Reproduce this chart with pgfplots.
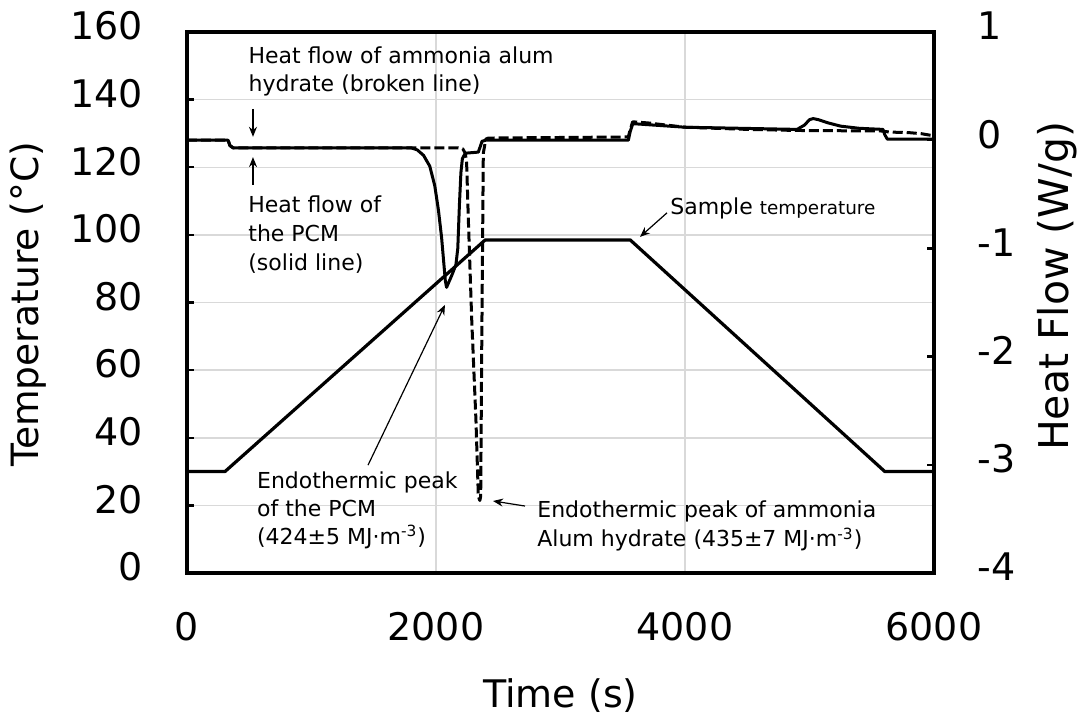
\documentclass[border=0pt]{standalone}
\usepackage{fontspec}
\setmainfont{DejaVu Sans}
\usepackage{pgfplots}
\pgfplotsset{compat=1.18}
\usetikzlibrary{arrows.meta}
\definecolor{gridgray}{RGB}{217,217,217}
\newcommand{\annfont}{\fontsize{11}{13}\selectfont}
\tikzset{ann/.style={anchor=base west, inner sep=0pt, font=\annfont}}
\pgfplotsset{
  base/.style={at={(0,0)}, anchor=south west, scale only axis,
    width=373.5pt, height=270.5pt, xmin=0, xmax=6000, clip=false,
    /pgf/number format/assume math mode=true,
    /pgf/number format/1000 sep={},
    scaled ticks=false,
    tick label style={font=\fontsize{19}{19}\selectfont},
  },
}
\begin{document}
\begin{tikzpicture}
\useasboundingbox (-93.5pt,-75.5pt) rectangle (448pt,286.5pt);
% background: grid, x and left tick labels
\begin{axis}[base, ymin=0, ymax=160,
  xtick={0,2000,4000,6000}, ytick={0,20,...,160},
  xmajorgrids, ymajorgrids, grid style={gridgray, line width=0.75pt},
  major tick length=0pt, axis line style={draw=none},
  xticklabel style={anchor=base, inner sep=0pt, yshift=-33.5pt},
  yticklabel style={anchor=east, inner sep=0pt, xshift=-22pt, yshift=3pt},
  xlabel={Time (s)},
  xlabel style={at={(axis description cs:0.5,-0.2495)}, anchor=base, font=\fontsize{19}{19}\selectfont},
  ylabel={Temperature (°C)},
  ylabel style={at={(axis description cs:-0.2129,0.497)}, anchor=center, font=\fontsize{18.8}{19}\selectfont},
]
\addplot[draw=none, forget plot] coordinates {(0,0) (6000,160)};
\end{axis}
% left axis: temperature
\begin{axis}[base, ymin=0, ymax=160, xtick=\empty,
  ytick={0,20,...,160}, ytick pos=left, ytick align=inside,
  major tick length=3.5pt, tick style={black, line width=1.2pt},
  yticklabels={}, axis line style={line width=2pt},
]
\addplot[black, line width=1.6pt, line join=round] coordinates {
(0,30) (305,30) (2395,98.5) (3560,98.5) (5605,30) (6000,30)};
% annotations
\node[ann] at (axis cs:492,150.8) {Heat flow of ammonia alum};
\node[ann] at (axis cs:492,142.4) {hydrate (broken line)};
\draw[-{Stealth[length=5pt,width=4pt]}, line width=0.6pt] (axis cs:530,137.3) -- (axis cs:530,129.0);
\draw[-{Stealth[length=5pt,width=4pt]}, line width=0.6pt] (axis cs:530,114.8) -- (axis cs:530,123.0);
\node[ann] at (axis cs:490,106.5) {Heat flow of};
\node[ann] at (axis cs:490,97.9) {the PCM};
\node[ann] at (axis cs:490,89.6) {(solid line)};
\node[ann] at (axis cs:560,25.1) {Endothermic peak};
\node[ann] at (axis cs:560,16.6) {of the PCM};
\node[ann] at (axis cs:560,8.3) {(424±5 MJ·m\textsuperscript{-3})};
\draw[-{Stealth[length=5pt,width=4pt]}, line width=0.6pt] (axis cs:1454,31.9) -- (axis cs:2072,79.3);
\node[ann] at (axis cs:2811,16.3) {Endothermic peak of ammonia};
\node[ann] at (axis cs:2811,7.7) {Alum hydrate (435±7 MJ·m\textsuperscript{-3})};
\draw[-{Stealth[length=5pt,width=4pt]}, line width=0.6pt] (axis cs:2715,19.8) -- (axis cs:2458,21.3);
\node[ann] at (axis cs:3879,105.9) {Sample {\fontsize{9.2}{11}\selectfont temperature}};
\draw[-{Stealth[length=5pt,width=4pt]}, line width=0.6pt] (axis cs:3855,106.5) -- (axis cs:3638,99.4);
\end{axis}
% right axis: heat flow
\begin{axis}[base, ymin=-4, ymax=1,
  axis y line*=right, axis x line=none,
  ytick={-4,-3,-2,-1,0,1}, ytick align=inside,
  major tick length=3.5pt, tick style={black, line width=1.2pt},
  axis line style={line width=2pt},
  yticklabel style={anchor=west, inner sep=0pt, xshift=21.5pt, yshift=3pt},
  ylabel={Heat Flow (W/g)},
  ylabel style={at={(axis description cs:1.1647,0.53)}, anchor=center, font=\fontsize{20.5}{21}\selectfont},
]
% PCM (solid)
\addplot[black, line width=1.5pt, line join=round] coordinates {
(0,0.00) (330,0.00) (345,-0.05) (370,-0.07) (1800,-0.07) (1850,-0.09) (1900,-0.14)
(1950,-0.24) (1990,-0.42) (2020,-0.65) (2045,-0.90) (2060,-1.10) (2075,-1.30)
(2085,-1.36) (2100,-1.32) (2130,-1.24) (2160,-1.15) (2175,-1.00) (2188,-0.60)
(2200,-0.30) (2212,-0.17) (2235,-0.12) (2340,-0.11) (2355,-0.06) (2370,-0.01)
(2400,0.00) (3545,0.00) (3560,0.08) (3580,0.15) (3620,0.15) (4000,0.12)
(4900,0.10) (4960,0.14) (5000,0.19) (5030,0.20) (5070,0.19) (5150,0.16)
(5250,0.13) (5400,0.11) (5590,0.10) (5605,0.05) (5625,0.01) (6000,0.01)};
% ammonia alum hydrate (broken)
\addplot[black, line width=1.5pt, dash pattern=on 5pt off 2pt, line join=round] coordinates {
(0,0.00) (330,0.00) (345,-0.05) (370,-0.07) (2180,-0.07) (2215,-0.08) (2235,-0.12)
(2246,-0.21) (2260,-0.74) (2287,-1.66) (2321,-2.59) (2340,-3.29) (2352,-3.33)
(2359,-3.29) (2367,-1.97) (2380,-0.12) (2400,0.01) (2420,0.02) (3545,0.03)
(3560,0.10) (3580,0.17) (3700,0.16) (4000,0.12) (4500,0.10) (4900,0.09)
(5590,0.085) (5610,0.08) (5650,0.075) (5800,0.07) (5900,0.06) (6000,0.04)};
\end{axis}
\end{tikzpicture}
\end{document}
